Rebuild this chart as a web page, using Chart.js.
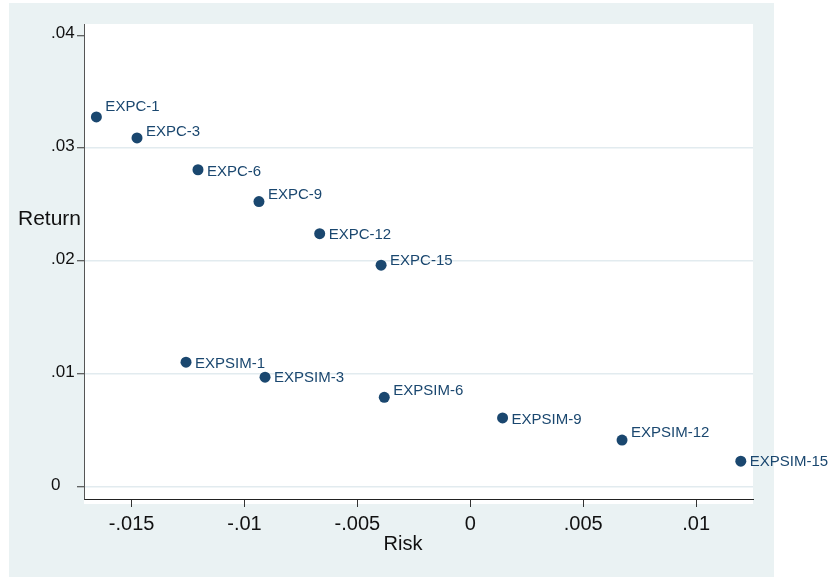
<!DOCTYPE html>
<html>
<head>
<meta charset="utf-8">
<script src="https://cdn.jsdelivr.net/npm/chart.js@4/dist/chart.umd.min.js"></script>
<style>
  html, body { margin: 0; padding: 0; background: #ffffff; }
  canvas { display: block; }
</style>
</head>
<body>
<canvas id="riskReturnChart" width="834" height="577"></canvas>
<script>
const portfolios = [
  "EXPC-1", "EXPC-3", "EXPC-6", "EXPC-9", "EXPC-12", "EXPC-15",
  "EXPSIM-1", "EXPSIM-3", "EXPSIM-6", "EXPSIM-9", "EXPSIM-12", "EXPSIM-15",
];
const riskValues = [
  -0.01656, -0.01476, -0.01206, -0.00936, -0.00667, -0.00395,
  -0.01259, -0.00909, -0.00381, 0.00143, 0.00672, 0.01198,
];
const returnValues = [
  0.03277, 0.03091, 0.02809, 0.02527, 0.02243, 0.01964,
  0.01105, 0.00972, 0.00794, 0.00611, 0.00415, 0.00228,
];
const xTickValues = [-0.015, -0.01, -0.005, 0, 0.005, 0.01];
const xTickLabels = ["-.015", "-.01", "-.005", "0", ".005", ".01"];
const yTickValues = [0, 0.01, 0.02, 0.03, 0.04];
const yTickLabels = ["0", ".01", ".02", ".03", ".04"];

const navy = "#1a476f";
const fontFamily = "'Liberation Sans', Arial, Helvetica, sans-serif";

// vertical nudge of each marker label (some sit up and to the right)
const labelNudge = [-10, -6, 2, -7, 1, -4, 2, 1, -6, 2, -7, 1];

const points = riskValues.map((x, i) => ({ x: x, y: returnValues[i] }));

const backgroundPlugin = {
  id: "stataBackground",
  beforeDraw(chart) {
    const ctx = chart.ctx;
    ctx.save();
    ctx.fillStyle = "#ffffff";
    ctx.fillRect(0, 0, chart.width, chart.height);
    ctx.fillStyle = "#eaf2f3";
    ctx.fillRect(9, 3, 765, chart.height - 3);
    const area = chart.chartArea;
    ctx.fillStyle = "#ffffff";
    ctx.fillRect(area.left, area.top, area.right - area.left, area.bottom - area.top + 5);
    ctx.restore();
  },
};

const labelPlugin = {
  id: "markerLabels",
  afterDatasetsDraw(chart) {
    const ctx = chart.ctx;
    const meta = chart.getDatasetMeta(0);
    ctx.save();
    ctx.fillStyle = navy;
    ctx.font = "15px " + fontFamily;
    ctx.textAlign = "left";
    ctx.textBaseline = "middle";
    meta.data.forEach(function (pt, i) {
      ctx.fillText(portfolios[i], pt.x + 9, pt.y + labelNudge[i]);
    });

    // axis titles
    ctx.fillStyle = "#111111";
    ctx.font = "21px " + fontFamily;
    ctx.textAlign = "left";
    ctx.fillText("Return", 18, 219);
    ctx.font = "20px " + fontFamily;
    ctx.textAlign = "center";
    ctx.fillText("Risk", 403, 544);
    ctx.restore();
  },
};

const ctx = document.getElementById("riskReturnChart").getContext("2d");
new Chart(ctx, {
  type: "scatter",
  data: {
    datasets: [
      {
        label: "Portfolios",
        data: points,
        pointRadius: 5.5,
        pointHoverRadius: 5.5,
        pointBackgroundColor: navy,
        pointBorderWidth: 0,
        borderColor: navy,
      },
    ],
  },
  options: {
    responsive: false,
    animation: false,
    events: [],
    layout: {
      padding: { top: 24, right: 81, bottom: 0, left: 51 },
    },
    plugins: {
      legend: { display: false },
      tooltip: { enabled: false },
    },
    scales: {
      x: {
        type: "linear",
        position: "bottom",
        min: -0.017108,
        max: 0.01252,
        afterBuildTicks: function (scale) {
          scale.ticks = xTickValues.map((v) => ({ value: v }));
        },
        afterFit: function (scale) {
          scale.height = 78;
        },
        border: { display: true, color: "#222222", width: 1 },
        grid: {
          drawOnChartArea: false,
          drawTicks: true,
          tickLength: 8,
          tickColor: "#333333",
        },
        ticks: {
          padding: 5,
          color: "#111111",
          font: { family: fontFamily, size: 20 },
          maxRotation: 0,
          autoSkip: false,
          callback: function (value, index) {
            return xTickLabels[index];
          },
        },
      },
      y: {
        type: "linear",
        position: "left",
        min: -0.00107,
        max: 0.041,
        afterBuildTicks: function (scale) {
          scale.ticks = yTickValues.map((v) => ({ value: v }));
        },
        afterFit: function (scale) {
          scale.width = 33;
        },
        border: { display: true, color: "#555555", width: 1 },
        grid: {
          color: function (context) {
            if (context.tick && context.tick.value === 0.04) return "rgba(0,0,0,0)";
            return "#e2ebef";
          },
          lineWidth: 1.5,
          drawTicks: true,
          tickLength: 7,
          tickColor: "#333333",
          tickWidth: 1,
        },
        ticks: {
          crossAlign: "far",
          labelOffset: -2,
          color: "#111111",
          font: { family: fontFamily, size: 17 },
          autoSkip: false,
          callback: function (value, index) {
            return yTickLabels[index];
          },
        },
      },
    },
  },
  plugins: [backgroundPlugin, labelPlugin],
});
</script>
</body>
</html>
